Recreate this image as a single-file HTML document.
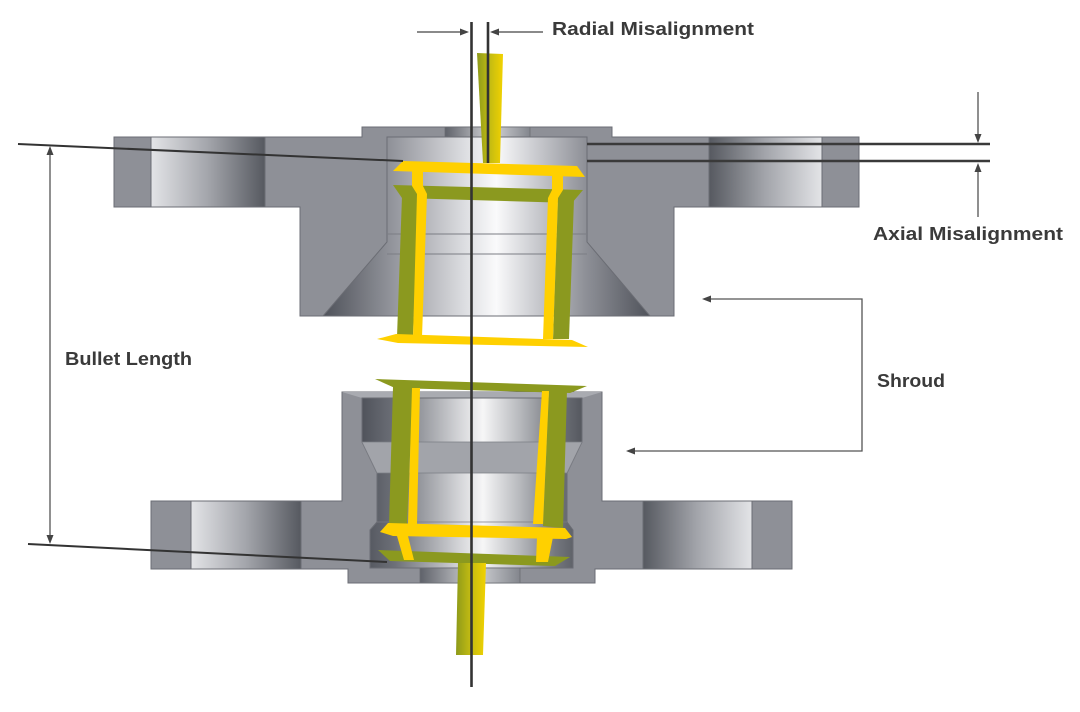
<!DOCTYPE html>
<html>
<head>
<meta charset="utf-8">
<style>
html,body{margin:0;padding:0;background:#ffffff;}
svg{display:block;}
text{font-family:"Liberation Sans",Arial,sans-serif;font-weight:bold;fill:#3a3a3a;}
</style>
</head>
<body>
<svg width="1080" height="712" viewBox="0 0 1080 712" xmlns="http://www.w3.org/2000/svg">
<defs>
  <linearGradient id="flL" x1="0" y1="0" x2="1" y2="0">
    <stop offset="0" stop-color="#e3e4e7"/>
    <stop offset="0.5" stop-color="#a3a5ab"/>
    <stop offset="1" stop-color="#565960"/>
  </linearGradient>
  <linearGradient id="flR" x1="0" y1="0" x2="1" y2="0">
    <stop offset="0" stop-color="#565960"/>
    <stop offset="0.5" stop-color="#a3a5ab"/>
    <stop offset="1" stop-color="#e3e4e7"/>
  </linearGradient>
  <linearGradient id="boreU" gradientUnits="userSpaceOnUse" x1="323" y1="0" x2="650" y2="0">
    <stop offset="0" stop-color="#4f525a"/>
    <stop offset="0.2" stop-color="#8f9198"/>
    <stop offset="0.45" stop-color="#e2e3e6"/>
    <stop offset="0.53" stop-color="#fafafb"/>
    <stop offset="0.63" stop-color="#d2d3d7"/>
    <stop offset="0.8" stop-color="#8f9198"/>
    <stop offset="1" stop-color="#50535b"/>
  </linearGradient>
  <linearGradient id="boreL" gradientUnits="userSpaceOnUse" x1="362" y1="0" x2="582" y2="0">
    <stop offset="0" stop-color="#50535b"/>
    <stop offset="0.15" stop-color="#6d7078"/>
    <stop offset="0.45" stop-color="#d6d7da"/>
    <stop offset="0.55" stop-color="#f6f6f7"/>
    <stop offset="0.72" stop-color="#b6b8bc"/>
    <stop offset="0.88" stop-color="#74777e"/>
    <stop offset="1" stop-color="#55585f"/>
  </linearGradient>
  <linearGradient id="hole" x1="0" y1="0" x2="1" y2="0">
    <stop offset="0" stop-color="#5f626a"/>
    <stop offset="0.55" stop-color="#d4d5d8"/>
    <stop offset="1" stop-color="#83868d"/>
  </linearGradient>
  <linearGradient id="pin" x1="0" y1="0" x2="1" y2="0">
    <stop offset="0" stop-color="#8d9a1a"/>
    <stop offset="0.5" stop-color="#c4bc12"/>
    <stop offset="1" stop-color="#f2d200"/>
  </linearGradient>
</defs>

<!-- ================= UPPER CONNECTOR ================= -->
<path d="M114,137 H362 V127 H612 V137 H859 V207 H674 V316 H300 V207 H114 Z" fill="#8e9097" stroke="#6b6d74" stroke-width="1"/>
<rect x="151" y="137" width="114" height="70" fill="url(#flL)" stroke="#6b6d74" stroke-width="1"/>
<rect x="709" y="137" width="113" height="70" fill="url(#flR)" stroke="#6b6d74" stroke-width="1"/>
<rect x="445" y="127" width="85" height="10" fill="url(#hole)" stroke="#6b6d74" stroke-width="0.8"/>
<polygon points="387,137 587,137 587,242 650,316 323,316 387,242" fill="url(#boreU)" stroke="#6b6d74" stroke-width="1"/>
<line x1="387" y1="234" x2="587" y2="234" stroke="#7b7d84" stroke-width="1"/>
<line x1="387" y1="254" x2="587" y2="254" stroke="#7b7d84" stroke-width="1"/>

<!-- ================= LOWER CONNECTOR ================= -->
<path d="M151,501 H342 V392 H602 V501 H792 V569 H595 V583 H348 V569 H151 Z" fill="#8e9097" stroke="#6b6d74" stroke-width="1"/>
<rect x="191" y="501" width="110" height="68" fill="url(#flL)" stroke="#6b6d74" stroke-width="1"/>
<rect x="643" y="501" width="109" height="68" fill="url(#flR)" stroke="#6b6d74" stroke-width="1"/>
<polygon points="342,392 602,392 582,398 362,398" fill="#a9abb1"/>
<polygon points="362,398 582,398 582,442 567,473 567,522 573,530 573,568 370,568 370,530 377,522 377,473 362,442" fill="url(#boreL)" stroke="#6b6d74" stroke-width="1"/>
<polygon points="362,442 582,442 567,473 377,473" fill="#a2a4aa" stroke="#7b7d84" stroke-width="0.8"/>
<line x1="377" y1="522" x2="567" y2="522" stroke="#7b7d84" stroke-width="0.8"/>
<rect x="420" y="568" width="100" height="15" fill="url(#hole)" stroke="#6b6d74" stroke-width="0.8"/>

<!-- ================= UPPER BULLET ================= -->
<polygon points="393,185 583,190 572,203 402,198" fill="#8b991f"/>
<polygon points="402,196 418,196 413,337 397,337" fill="#8b991f"/>
<polygon points="558,199 574,199 569,339 553,339" fill="#8b991f"/>
<polygon points="403,161 577,166 585,177 393,171" fill="#ffd000"/>
<polygon points="412,170 423,170 423,186 427,194 422,337 413,337 417,194 412,186" fill="#ffd000"/>
<polygon points="552,172 563,172 563,190 558,198 553,339 543,339 548,198 552,190" fill="#ffd000"/>
<polygon points="377,339 396,334 572,340 588,347 398,343" fill="#ffd000"/>

<!-- ================= LOWER BULLET ================= -->
<polygon points="375,379 587,386 570,393 395,388" fill="#8b991f"/>
<polygon points="393,387 413,387 407,524 389,524" fill="#8b991f"/>
<polygon points="549,390 567,390 563,528 543,526" fill="#8b991f"/>
<polygon points="378,550 570,557 555,566 390,561" fill="#8b991f"/>
<polygon points="412,388 420,388 417,524 408,524" fill="#ffd000"/>
<polygon points="542,391 549,391 543,524 533,524" fill="#ffd000"/>
<polygon points="380,532 388,523 565,528 572,537 566,539 393,536" fill="#ffd000"/>
<polygon points="397,536 408,536 414,560 404,560" fill="#ffd000"/>
<polygon points="537,537 553,537 548,562 536,562" fill="#ffd000"/>

<!-- ================= PINS ================= -->
<polygon points="477,53 503,54 500,163 483,163" fill="url(#pin)"/>
<polygon points="458,563 486,563 483,655 456,655" fill="url(#pin)"/>

<!-- ================= CENTER LINES ================= -->
<line x1="471.5" y1="22" x2="471.5" y2="687" stroke="#333333" stroke-width="2.6"/>
<line x1="488" y1="22" x2="488" y2="163" stroke="#333333" stroke-width="2.6"/>

<!-- Radial misalignment arrows -->
<line x1="417" y1="32" x2="462" y2="32" stroke="#444" stroke-width="1.2"/>
<polygon points="469,32 460,28.5 460,35.5" fill="#444"/>
<line x1="543" y1="32" x2="496" y2="32" stroke="#444" stroke-width="1.2"/>
<polygon points="490,32 499,28.5 499,35.5" fill="#444"/>

<!-- Axial misalignment -->
<line x1="587" y1="144" x2="990" y2="144" stroke="#3a3a3a" stroke-width="2.6"/>
<line x1="587" y1="161" x2="990" y2="161" stroke="#3a3a3a" stroke-width="2.6"/>
<line x1="978" y1="92" x2="978" y2="135" stroke="#444" stroke-width="1.2"/>
<polygon points="978,143 974.5,134 981.5,134" fill="#444"/>
<line x1="978" y1="217" x2="978" y2="171" stroke="#444" stroke-width="1.2"/>
<polygon points="978,163 974.5,172 981.5,172" fill="#444"/>

<!-- Shroud bracket -->
<path d="M709,299 H862 V451 H633" fill="none" stroke="#555" stroke-width="1.3"/>
<polygon points="702,299 711,295.5 711,302.5" fill="#444"/>
<polygon points="626,451 635,447.5 635,454.5" fill="#444"/>

<!-- Bullet length -->
<line x1="18" y1="144" x2="403" y2="161" stroke="#333" stroke-width="2"/>
<line x1="28" y1="544" x2="387" y2="562" stroke="#333" stroke-width="2"/>
<line x1="50" y1="153" x2="50" y2="536" stroke="#555" stroke-width="1.3"/>
<polygon points="50,146 46.5,155 53.5,155" fill="#444"/>
<polygon points="50,544 46.5,535 53.5,535" fill="#444"/>

<!-- ================= LABELS ================= -->
<text x="552" y="35" font-size="18" textLength="202" lengthAdjust="spacingAndGlyphs">Radial Misalignment</text>
<text x="873" y="240" font-size="18" textLength="190" lengthAdjust="spacingAndGlyphs">Axial Misalignment</text>
<text x="877" y="387" font-size="18" textLength="68" lengthAdjust="spacingAndGlyphs">Shroud</text>
<text x="65" y="365" font-size="18.5" textLength="127" lengthAdjust="spacingAndGlyphs">Bullet Length</text>
</svg>
</body>
</html>
